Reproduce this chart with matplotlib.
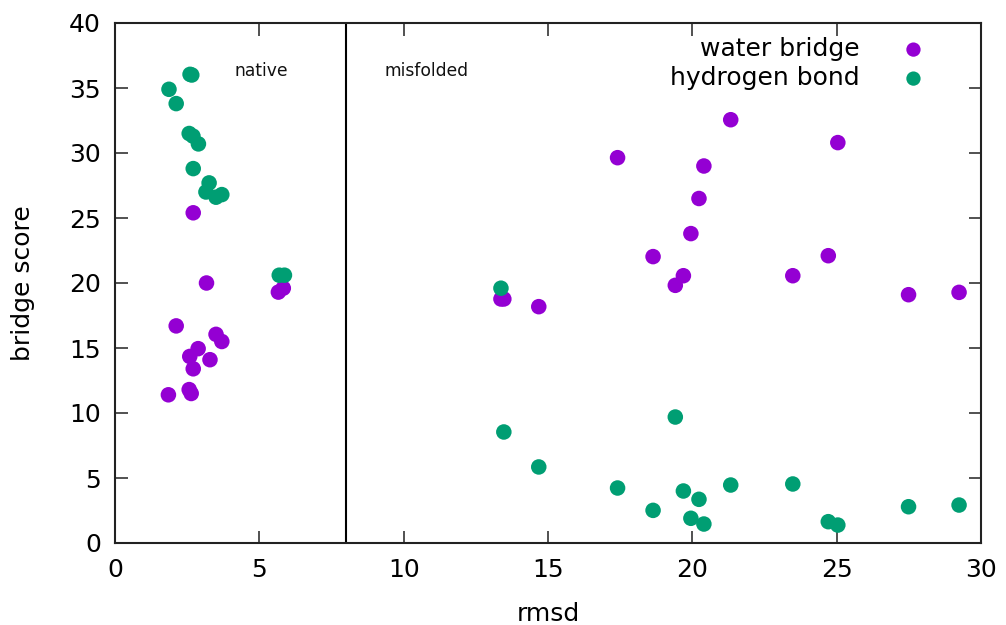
import matplotlib
matplotlib.use("Agg")
import matplotlib.pyplot as plt

# native structures
native_wb_x = [1.85, 2.12, 2.57, 2.59, 2.64, 2.71, 2.71, 2.88, 3.17, 3.29, 3.50, 3.70, 5.66, 5.83]
native_wb_y = [11.4, 16.7, 11.8, 14.35, 11.5, 25.4, 13.4, 14.95, 20.0, 14.1, 16.05, 15.5, 19.3, 19.6]
native_hb_x = [1.87, 2.12, 2.57, 2.60, 2.66, 2.70, 2.71, 2.89, 3.15, 3.26, 3.50, 3.70, 5.69, 5.87]
native_hb_y = [34.9, 33.8, 31.5, 36.05, 36.0, 31.3, 28.8, 30.7, 27.0, 27.7, 26.6, 26.8, 20.6, 20.6]

# misfolded structures
mis_x = [13.37, 13.47, 14.68, 17.41, 18.64, 19.41, 19.69, 19.95, 20.23, 20.40, 21.33, 23.48, 24.71, 25.04, 27.49, 29.24]
mis_wb_y = [18.77, 18.77, 18.18, 29.64, 22.03, 19.82, 20.56, 23.8, 26.5, 29.0, 32.56, 20.56, 22.1, 30.8, 19.1, 19.28]
mis_hb_y = [19.6, 8.54, 5.85, 4.23, 2.51, 9.69, 4.0, 1.9, 3.36, 1.46, 4.46, 4.54, 1.64, 1.38, 2.79, 2.92]

divider_x = 8
xticks = [0, 5, 10, 15, 20, 25, 30]
yticks = [0, 5, 10, 15, 20, 25, 30, 35, 40]

purple = "#9400D3"
green = "#009E73"
fs = 18

plt.rcParams['font.family'] = ['DejaVu Sans']
fig = plt.figure(figsize=(10.06, 6.25), dpi=100)
ax = fig.add_axes([115/1006, 1-543/625, (981-115)/1006, (543-23)/625])

wb_x = native_wb_x + mis_x
wb_y = native_wb_y + mis_wb_y
hb_x = native_hb_x + mis_x
hb_y = native_hb_y + mis_hb_y

ax.scatter(wb_x, wb_y, s=125, color=purple, edgecolors='none', label='water bridge', zorder=3)
ax.scatter(hb_x, hb_y, s=125, color=green, edgecolors='none', label='hydrogen bond', zorder=3)

ax.axvline(divider_x, color='black', lw=1.5)
ax.text(5.06, 36.3, 'native', ha='center', va='center', fontsize=12.3, color='#111111')
ax.text(10.8, 36.3, 'misfolded', ha='center', va='center', fontsize=12.3, color='#111111')

ax.set_xlim(0, 30)
ax.set_ylim(0, 40)
ax.set_xticks(xticks)
ax.set_yticks(yticks)
ax.tick_params(direction='in', length=9, width=1.2, top=True, right=True, labelsize=fs,
               colors='#333333', labelcolor='black')
ax.tick_params(axis='x', pad=11)
ax.tick_params(axis='y', pad=10)
for sp in ax.spines.values():
    sp.set_linewidth(1.5)
    sp.set_color('#222222')
ax.set_xlabel('rmsd', fontsize=fs, labelpad=14)
ax.set_ylabel('bridge score', fontsize=fs, labelpad=25)

leg = ax.legend(loc='upper right', bbox_to_anchor=(0.948, 0.992), frameon=False, markerfirst=False,
                fontsize=fs, handletextpad=1.65, labelspacing=0.2, borderaxespad=0,
                handlelength=1.0, markerscale=0.92)

fig.savefig('out.png', dpi=100)
